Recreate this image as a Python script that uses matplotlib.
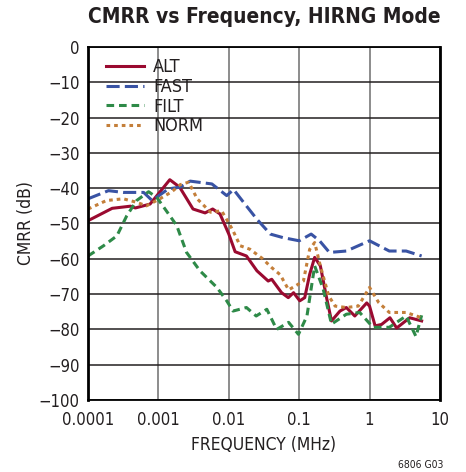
import matplotlib

matplotlib.use("Agg")

import matplotlib.pyplot as plt
from matplotlib.ticker import FixedLocator, NullLocator

# frequency in MHz, CMRR in dB
alt_freq = [0.0001, 0.00022, 0.0004, 0.00047, 0.00076, 0.00145, 0.002, 0.0031,
            0.0046, 0.0059, 0.0075, 0.01, 0.0123, 0.0178, 0.0251, 0.0363, 0.0407,
            0.0562, 0.07, 0.0832, 0.102, 0.12, 0.141, 0.166, 0.2, 0.245, 0.288,
            0.38, 0.468, 0.617, 0.912, 1.0, 1.2, 1.48, 1.95, 2.43, 3.72, 5.5]
alt_cmrr = [-49.2, -45.7, -45.1, -45.6, -44.5, -37.6, -39.7, -45.9,
            -47.0, -45.9, -47.3, -53.0, -58.0, -59.2, -63.4, -66.3, -65.8,
            -69.6, -71.0, -69.6, -71.9, -71.0, -64.4, -59.6, -62.0, -71.0, -77.6,
            -74.8, -73.8, -76.2, -72.5, -73.4, -79.0, -78.6, -76.7, -79.6, -76.7, -77.6]

fast_freq = [0.0001, 0.000195, 0.000316, 0.000617, 0.000813, 0.00138, 0.00204,
             0.00282, 0.00575, 0.00933, 0.0117, 0.0162, 0.0251, 0.0389, 0.0589,
             0.1, 0.148, 0.195, 0.269, 0.468, 1.0, 1.91, 3.31, 5.5]
fast_cmrr = [-43.0, -40.7, -41.2, -41.2, -43.5, -40.2, -39.7,
             -38.0, -38.8, -42.1, -40.4, -44.0, -48.8, -53.0, -54.0,
             -54.9, -53.0, -54.9, -58.2, -57.8, -54.9, -57.8, -57.8, -59.2]

filt_freq = [0.0001, 0.000166, 0.000257, 0.000355, 0.00049, 0.000724, 0.000955,
             0.00145, 0.00182, 0.00251, 0.00389, 0.00676, 0.00933, 0.0115, 0.0178,
             0.0245, 0.0347, 0.0479, 0.0708, 0.0977, 0.129, 0.166, 0.219, 0.288,
             0.468, 0.724, 1.12, 1.91, 3.31, 4.57, 5.5]
filt_cmrr = [-59.2, -56.3, -53.5, -47.8, -43.5, -41.0, -42.7,
             -47.8, -50.6, -58.2, -63.4, -68.1, -71.9, -74.8, -73.8,
             -76.2, -74.3, -80.0, -78.0, -81.4, -76.2, -62.0, -68.5, -78.5,
             -75.7, -75.2, -79.4, -79.4, -76.2, -82.0, -76.0]

norm_freq = [0.0001, 0.000182, 0.000316, 0.00049, 0.000676, 0.00105, 0.00155,
             0.00204, 0.00269, 0.00355, 0.0055, 0.0079, 0.0112, 0.0145, 0.02,
             0.0295, 0.0407, 0.0537, 0.0708, 0.0933, 0.115, 0.141, 0.166, 0.2,
             0.263, 0.324, 0.468, 0.692, 1.0, 1.35, 1.91, 3.31, 5.5]
norm_cmrr = [-45.9, -43.5, -43.0, -44.0, -45.0, -43.0, -41.0,
             -39.0, -38.3, -43.0, -46.8, -46.4, -51.6, -56.3, -57.3,
             -59.8, -62.5, -64.5, -68.8, -67.4, -66.3, -57.3, -55.4, -62.0,
             -70.5, -73.4, -73.8, -73.4, -68.1, -72.4, -75.2, -75.2, -76.7]

x_ticks = [0.0001, 0.001, 0.01, 0.1, 1, 10]
x_labels = ["0.0001", "0.001", "0.01", "0.1", "1", "10"]
y_ticks = list(range(-100, 1, 10))

# condensed face to get close to the narrow datasheet font
plt.rcParams["font.family"] = ["DejaVu Sans"]
plt.rcParams["font.stretch"] = "condensed"

fig = plt.figure(figsize=(4.66, 4.72), dpi=100)
ax = fig.add_axes([0.189, 0.1525, 0.755, 0.748])

line_kw = dict(lw=2.2, solid_joinstyle="round", dash_joinstyle="round")
ax.plot(alt_freq, alt_cmrr, color="#9a0a30", label="ALT", **line_kw)
ax.plot(fast_freq, fast_cmrr, color="#3953a4", dashes=(4.3, 1.7), label="FAST", **line_kw)
ax.plot(filt_freq, filt_cmrr, color="#2e8a48", dashes=(2.5, 1.6), label="FILT", **line_kw)
ax.plot(norm_freq, norm_cmrr, color="#c47f3a", dashes=(1.2, 1.3), label="NORM", **line_kw)

ax.set_xscale("log")
ax.set_xlim(0.0001, 10)
ax.set_ylim(-100, 0)
ax.xaxis.set_major_locator(FixedLocator(x_ticks))
ax.xaxis.set_minor_locator(NullLocator())
ax.set_xticklabels(x_labels)
ax.set_yticks(y_ticks)
ax.set_yticklabels([str(v).replace("-", "\u2212") for v in y_ticks])
ax.tick_params(length=0, labelsize=12, colors="#231f20")
ax.tick_params(axis="x", pad=8)
ax.tick_params(axis="y", pad=6)

ax.grid(True, axis="y", color="#231f20", lw=1.1)
ax.grid(True, axis="x", color="#6d6d6d", lw=1.1)
ax.set_axisbelow(True)
for side in ["left", "right"]:
    ax.spines[side].set_linewidth(2.0)
for side in ["top", "bottom"]:
    ax.spines[side].set_linewidth(1.3)

ax.set_xlabel("FREQUENCY (MHz)", fontsize=12.5, color="#231f20", labelpad=5)
ax.set_ylabel("CMRR (dB)", fontsize=12.5, color="#231f20", labelpad=3)
fig.text(0.567, 0.964, "CMRR vs Frequency, HIRNG Mode", ha="center", va="center",
         fontsize=15, fontweight="bold", color="#231f20")
fig.text(0.951, 0.015, "6806 G03", ha="right", va="center", fontsize=7.5, color="#231f20")

leg = ax.legend(loc="upper left", frameon=False, fontsize=13, handlelength=2.1,
                handletextpad=0.5, labelspacing=0.1, borderaxespad=0,
                bbox_to_anchor=(0.031, 0.989))
for t in leg.get_texts():
    t.set_color("#231f20")

fig.savefig("out.png", dpi=100)
